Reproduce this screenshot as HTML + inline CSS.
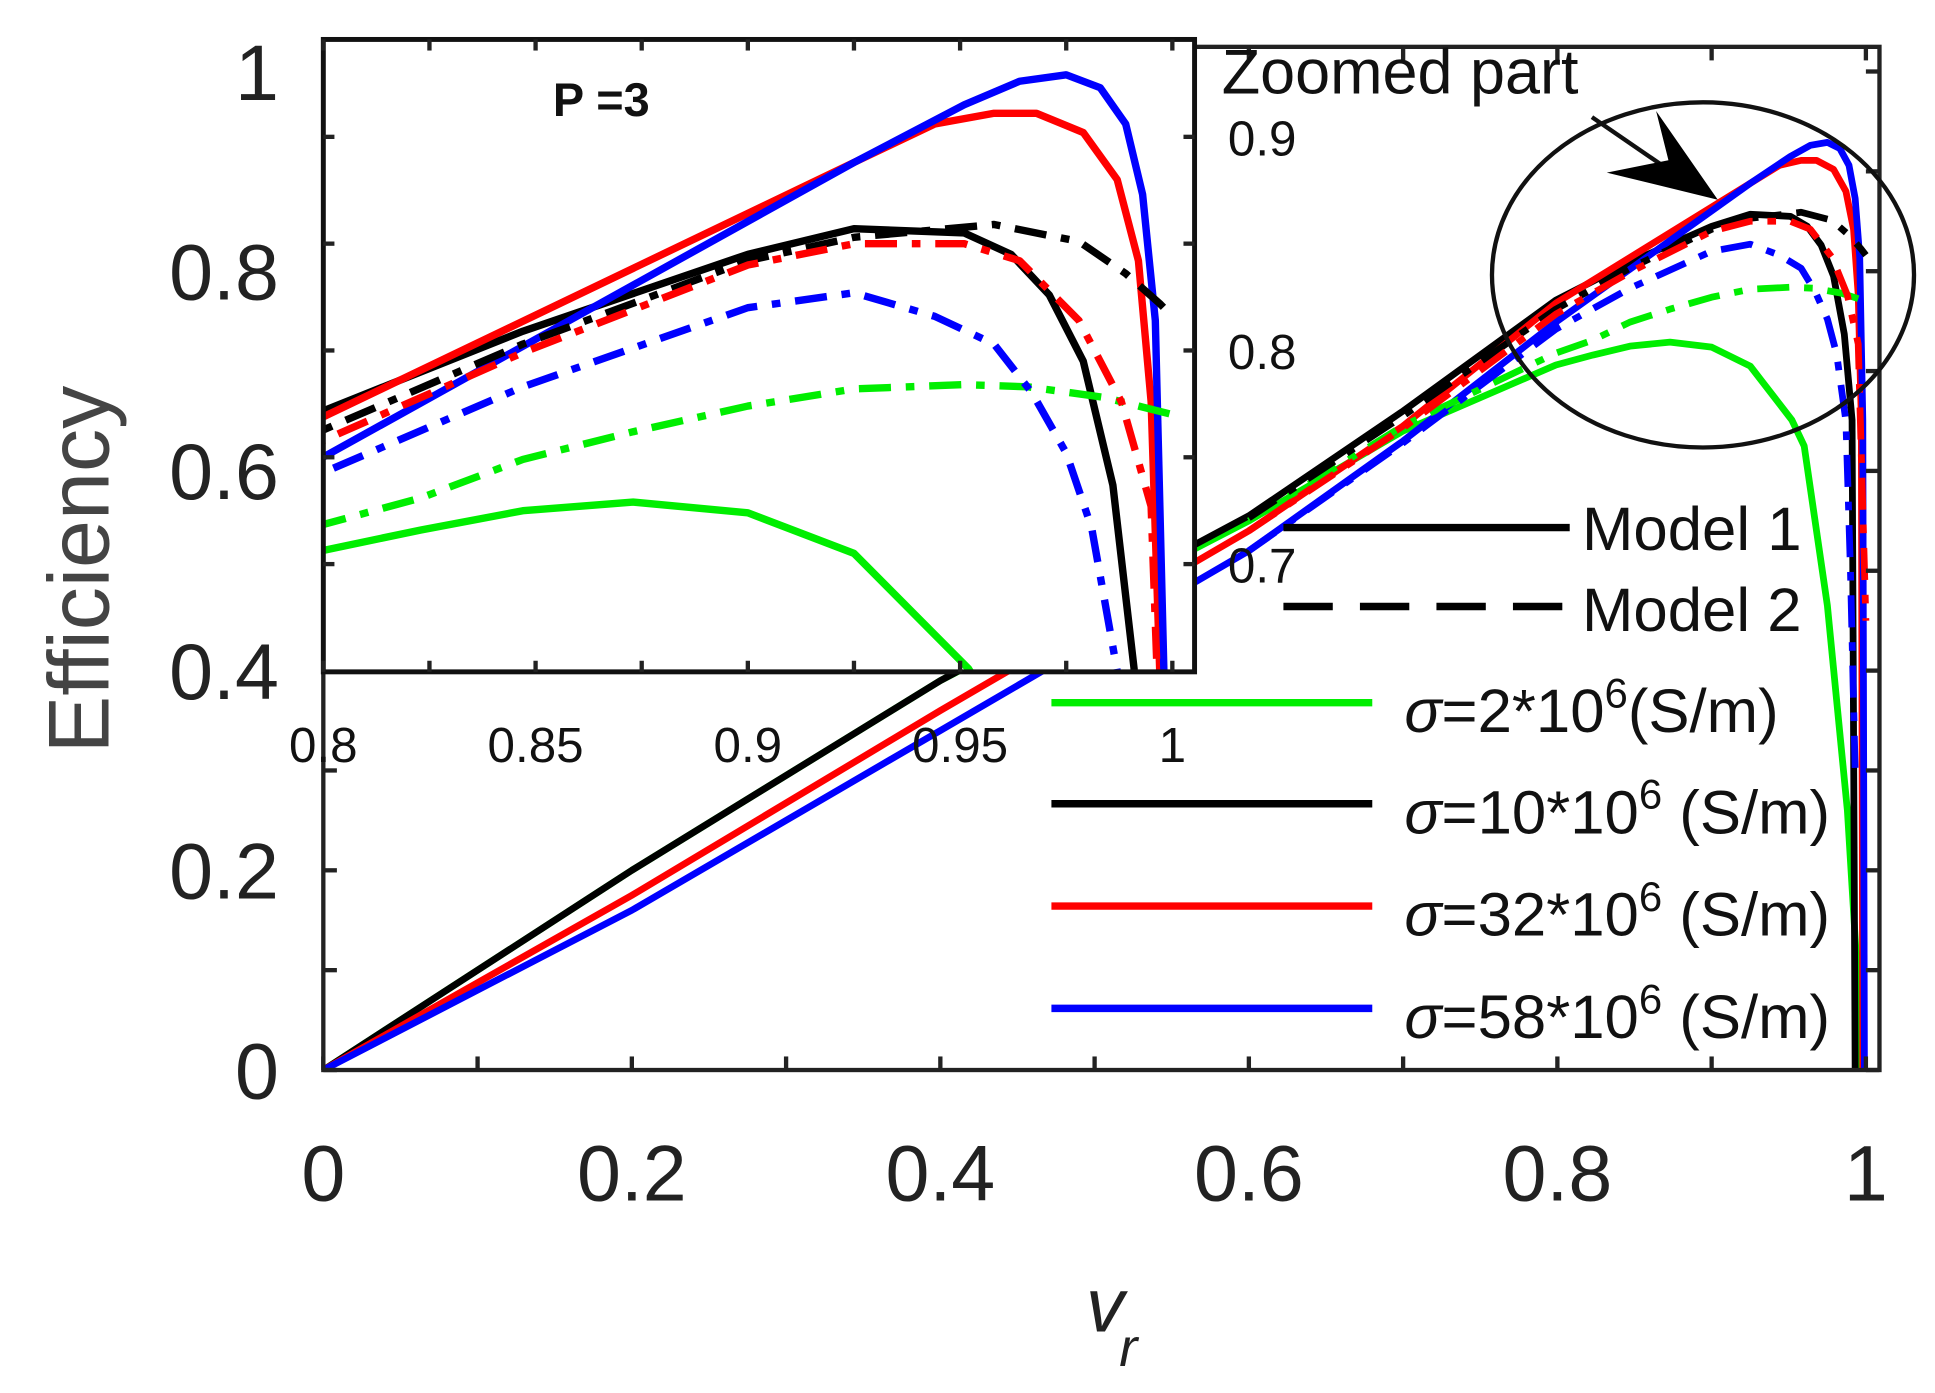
<!DOCTYPE html>
<html><head><meta charset="utf-8"><style>
html,body{margin:0;padding:0;background:#fff;overflow:hidden;width:1935px;height:1393px;}
svg{display:block;font-family:"Liberation Sans",Arial,sans-serif;}
</style></head><body>
<svg id="chart" width="1935" height="1393" viewBox="0 0 1568 1130" preserveAspectRatio="none" xmlns="http://www.w3.org/2000/svg">
<defs>
<clipPath id="mainClip"><rect x="262" y="38" width="1261" height="830"/></clipPath>
<clipPath id="insetClip"><rect x="262" y="32" width="706" height="513"/></clipPath>
</defs>
<rect x="0" y="0" width="1568" height="1130" fill="#fff"/>
<g id="mainLines" clip-path="url(#mainClip)"></g>
<rect x="262" y="38" width="1261" height="830" fill="none" stroke="#222" stroke-width="3.5"/>
<g id="mainTicks"></g>
<g id="mainLabels" font-size="64" fill="#222"></g>
<text x="88" y="462" font-size="70" fill="#444" text-anchor="middle" transform="rotate(-90 88 462)">Efficiency</text>
<text x="880" y="1080" font-size="62" font-style="italic" fill="#222">v<tspan font-size="44" dx="-4" dy="28">r</tspan></text>

<!-- inset -->
<rect x="262" y="32" width="706" height="513" fill="#fff"/>
<g id="insetLines" clip-path="url(#insetClip)"></g>
<rect x="262" y="32" width="706" height="513" fill="none" stroke="#111" stroke-width="4"/>
<g id="insetTicks"></g>
<g id="insetLabels" font-size="40" fill="#111"></g>
<text x="448" y="94" font-size="38" font-weight="bold" fill="#111">P =3</text>

<!-- annotation -->
<text x="990" y="76" font-size="51" fill="#111">Zoomed part</text>
<ellipse cx="1380" cy="223" rx="171" ry="140" fill="none" stroke="#111" stroke-width="3.5"/>
<line x1="1290" y1="95" x2="1370" y2="150" stroke="#111" stroke-width="3.5"/>
<polygon points="1392,162 1342,90 1352,130 1302,140" fill="#000"/>

<!-- legend -->
<g font-size="50" fill="#111">
<line x1="1040" y1="428" x2="1272" y2="428" stroke="#000" stroke-width="6"/>
<text x="1282" y="446">Model 1</text>
<line x1="1040" y1="492" x2="1272" y2="492" stroke="#000" stroke-width="6" stroke-dasharray="40,22"/>
<text x="1282" y="512">Model 2</text>
<line x1="852" y1="570" x2="1112" y2="570" stroke="#00ee00" stroke-width="6"/>
<text x="1138" y="594"><tspan font-style="italic">σ</tspan>=2*10<tspan font-size="34" dy="-20">6</tspan><tspan dy="20">(S/m)</tspan></text>
<line x1="852" y1="652" x2="1112" y2="652" stroke="#000" stroke-width="6"/>
<text x="1138" y="676"><tspan font-style="italic">σ</tspan>=10*10<tspan font-size="34" dy="-20">6</tspan><tspan dy="20"> (S/m)</tspan></text>
<line x1="852" y1="735" x2="1112" y2="735" stroke="#ff0000" stroke-width="6"/>
<text x="1138" y="759"><tspan font-style="italic">σ</tspan>=32*10<tspan font-size="34" dy="-20">6</tspan><tspan dy="20"> (S/m)</tspan></text>
<line x1="852" y1="818" x2="1112" y2="818" stroke="#0000ff" stroke-width="6"/>
<text x="1138" y="842"><tspan font-style="italic">σ</tspan>=58*10<tspan font-size="34" dy="-20">6</tspan><tspan dy="20"> (S/m)</tspan></text>
</g>
</svg>
<script>
// ---- data: v_r and efficiency per series ----
const m1GreenX = [0,0.2,0.4,0.6,0.7,0.799,0.823,0.847,0.873,0.900,0.925,0.952,0.96,0.975,0.988,0.994,0.996];
const m1GreenY = [0,0.2,0.39,0.55,0.64,0.706,0.716,0.725,0.729,0.724,0.705,0.651,0.625,0.465,0.26,0.108,0];
const m1BlackX = [0,0.2,0.4,0.6,0.7,0.799,0.847,0.900,0.925,0.951,0.962,0.971,0.979,0.986,0.991,0.993];
const m1BlackY = [0,0.2,0.39,0.555,0.66,0.771,0.809,0.845,0.857,0.855,0.845,0.826,0.795,0.737,0.651,0];
const m1RedX = [0,0.2,0.4,0.6,0.7,0.799,0.925,0.944,0.958,0.968,0.979,0.987,0.992,0.995,0.997,0.998];
const m1RedY = [0,0.175,0.36,0.54,0.645,0.768,0.888,0.906,0.911,0.911,0.902,0.880,0.842,0.776,0.651,0];
const m1BlueX = [0,0.2,0.4,0.6,0.7,0.799,0.925,0.951,0.964,0.975,0.983,0.989,0.993,0.996,0.998,0.999];
const m1BlueY = [0,0.16,0.34,0.52,0.63,0.749,0.888,0.915,0.926,0.929,0.923,0.906,0.873,0.814,0.651,0];
const m2GreenX = [0.6,0.7,0.799,0.823,0.847,0.873,0.900,0.925,0.951,0.966,0.984,1.0];
const m2GreenY = [0.55,0.645,0.718,0.731,0.749,0.762,0.774,0.782,0.784,0.783,0.778,0.770];
const m2BlackX = [0.6,0.7,0.799,0.847,0.900,0.925,0.958,0.978,0.989,0.997,1.0];
const m2BlackY = [0.553,0.655,0.762,0.803,0.842,0.853,0.859,0.851,0.836,0.822,0.816];
const m2RedX = [0.6,0.7,0.799,0.847,0.900,0.925,0.951,0.964,0.978,0.988,0.995,1.0];
const m2RedY = [0.54,0.643,0.757,0.799,0.840,0.850,0.850,0.842,0.814,0.776,0.727,0.45];
const m2BlueX = [0.6,0.7,0.799,0.847,0.900,0.925,0.944,0.958,0.967,0.975,0.981,0.987,0.990,0.993];
const m2BlueY = [0.52,0.628,0.742,0.783,0.820,0.827,0.816,0.803,0.780,0.752,0.717,0.65,0.5,0.3];
const mainXTicks = [0,0.2,0.4,0.6,0.8,1];
const mainXTickLabels = ["0","0.2","0.4","0.6","0.8","1"];
const mainYTicks = [0,0.2,0.4,0.6,0.8,1];
const mainYTickLabels = ["0","0.2","0.4","0.6","0.8","1"];
const insetXTicks = [0.8,0.85,0.9,0.95,1];
const insetXTickLabels = ["0.8","0.85","0.9","0.95","1"];
const insetYTicks = [0.7,0.8,0.9];
const insetYTickLabels = ["0.7","0.8","0.9"];

const NS = "http://www.w3.org/2000/svg";
const mx = v => 262 + v * 1250;
const my = e => 868 - e * 810;
const ix = v => 262 + (v - 0.8) * 3440;
const iy = e => 111 + (0.9 - e) * 1733;

const series = [
  {n:"green-model1", x:m1GreenX, y:m1GreenY, c:"#00ee00", d:null},
  {n:"black-model1", x:m1BlackX, y:m1BlackY, c:"#000", d:null},
  {n:"red-model1", x:m1RedX, y:m1RedY, c:"#ff0000", d:null},
  {n:"blue-model1", x:m1BlueX, y:m1BlueY, c:"#0000ff", d:null},
  {n:"green-model2", x:m2GreenX, y:m2GreenY, c:"#00ee00", d:"26,12,7,12"},
  {n:"black-model2", x:m2BlackX, y:m2BlackY, c:"#000", d:"26,12,7,12"},
  {n:"red-model2", x:m2RedX, y:m2RedY, c:"#ff0000", d:"26,12,7,12"},
  {n:"blue-model2", x:m2BlueX, y:m2BlueY, c:"#0000ff", d:"26,12,7,12"}
];
function draw(gid, fx, fy, w, prefix) {
  const g = document.getElementById(gid);
  series.forEach(s => {
    const p = document.createElementNS(NS, "path");
    let d = "";
    s.x.forEach((v, i) => { d += (i ? "L" : "M") + fx(v).toFixed(1) + "," + fy(s.y[i]).toFixed(1); });
    p.setAttribute("d", d);
    p.setAttribute("fill", "none");
    p.setAttribute("stroke", s.c);
    p.setAttribute("stroke-width", w);
    p.setAttribute("stroke-linejoin", "round");
    if (s.d) p.setAttribute("stroke-dasharray", s.d);
    
    
    g.appendChild(p);
  });
}
draw("mainLines", mx, my, 5.5, "main-line");
draw("insetLines", ix, iy, 6, "inset-line");

function tick(g, x1, y1, x2, y2, w) {
  const l = document.createElementNS(NS, "line");
  l.setAttribute("x1", x1); l.setAttribute("y1", y1);
  l.setAttribute("x2", x2); l.setAttribute("y2", y2);
  l.setAttribute("stroke", "#222"); l.setAttribute("stroke-width", w);
  
  
  g.appendChild(l);
}
function label(g, x, y, t, anchor, name) {
  const el = document.createElementNS(NS, "text");
  el.setAttribute("x", x); el.setAttribute("y", y);
  el.setAttribute("text-anchor", anchor);
  el.textContent = t;
  
  
  g.appendChild(el);
}
const mt = document.getElementById("mainTicks");
for (let i = 0; i <= 10; i++) {
  const v = i / 10, X = mx(v), Y = my(v);
  tick(mt, X, 868, X, 857, 3.5); tick(mt, X, 38, X, 49, 3.5);
  tick(mt, 262, Y, 273, Y, 3.5); tick(mt, 1523, Y, 1512, Y, 3.5);
}
const ml = document.getElementById("mainLabels");
mainXTicks.forEach((v, i) => label(ml, mx(v), 974, mainXTickLabels[i], "middle", "x-tick-label"));
mainYTicks.forEach((v, i) => label(ml, 226, my(v) + 23, mainYTickLabels[i], "end", "y-tick-label"));

const it = document.getElementById("insetTicks");
for (let i = 0; i <= 8; i++) {
  const X = ix(0.8 + i * 0.025);
  tick(it, X, 545, X, 536, 3.5); tick(it, X, 32, X, 41, 3.5);
}
for (let i = 0; i <= 5; i++) {
  const Y = iy(0.7 + i * 0.05);
  if (Y < 32 || Y > 545) continue;
  tick(it, 262, Y, 271, Y, 3.5); tick(it, 968, Y, 959, Y, 3.5);
}
const il = document.getElementById("insetLabels");
insetXTicks.forEach((v, i) => label(il, ix(v), 618, insetXTickLabels[i], "middle", "inset-x-tick-label"));
insetYTicks.forEach((v, i) => label(il, 995, iy(v) + 15, insetYTickLabels[i], "start", "inset-y-tick-label"));
</script>
</body></html>
